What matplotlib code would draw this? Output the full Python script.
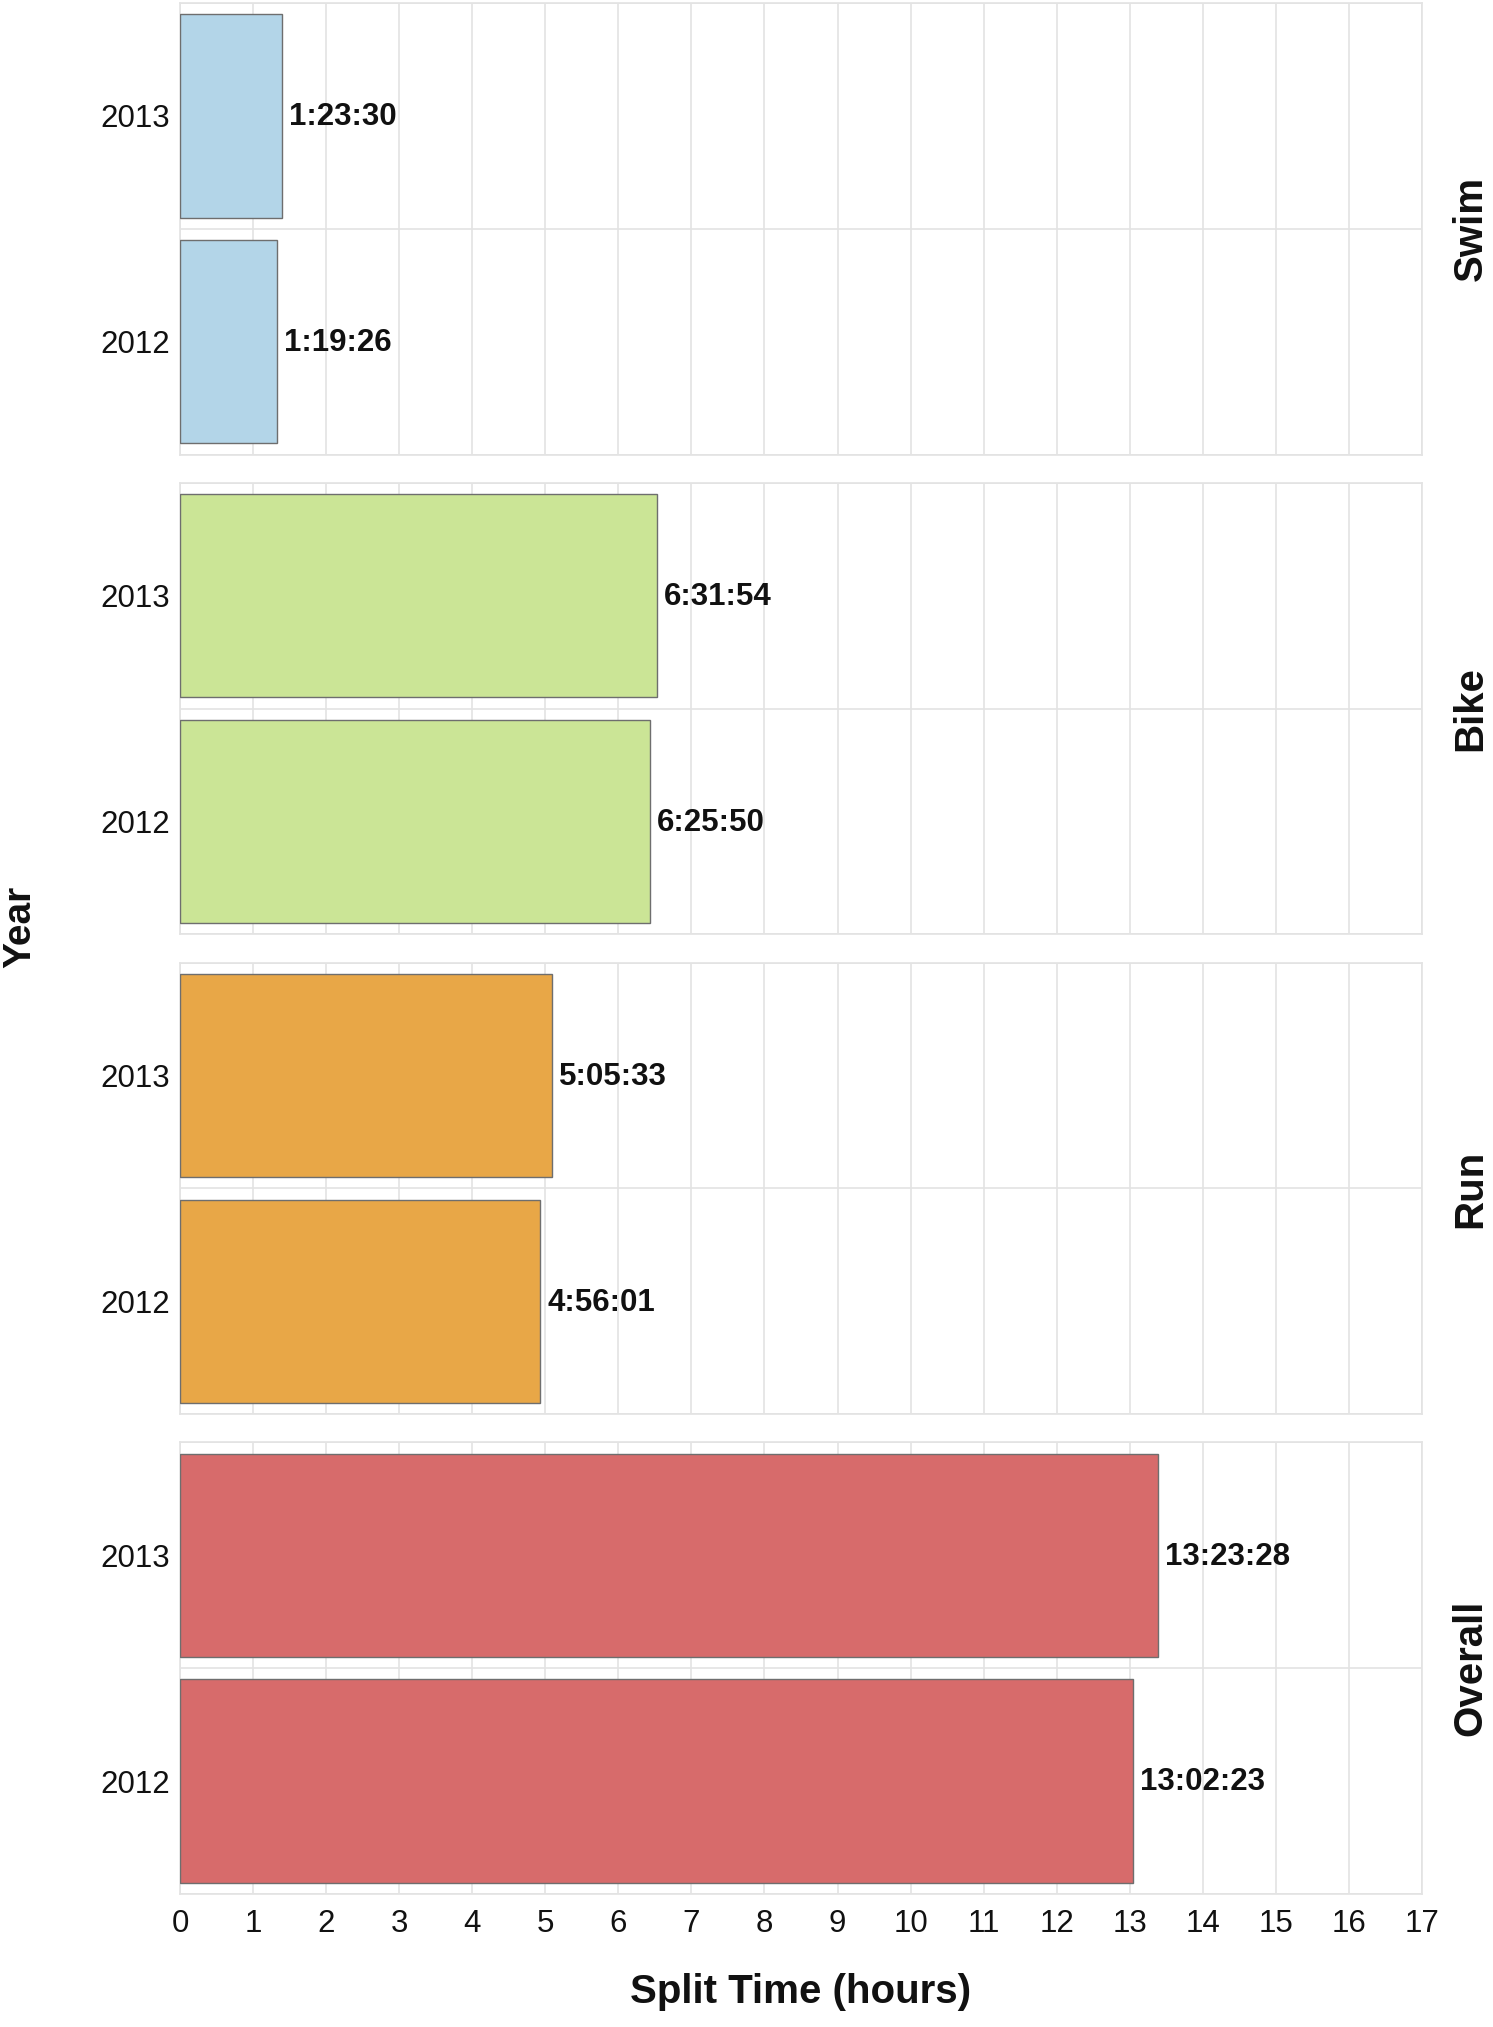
import matplotlib
matplotlib.use("Agg")
import matplotlib.pyplot as plt
import numpy as np

# split times, h:mm:ss
disciplines = ["Swim", "Bike", "Run", "Overall"]
years = ["2012", "2013"]
split_2012 = ["1:19:26", "6:25:50", "4:56:01", "13:02:23"]
split_2013 = ["1:23:30", "6:31:54", "5:05:33", "13:23:28"]
bar_colors = ["#B3D5E8", "#CBE596", "#E8A747", "#D76B6B"]
x_ticks = list(range(0, 18))


def to_hours(s):
    h, m, sec = [int(p) for p in s.split(":")]
    return h + m / 60 + sec / 3600


plt.rcParams["font.family"] = ["Liberation Sans", "DejaVu Sans"]

W, H = 1493, 2027
fig, axes = plt.subplots(4, 1, figsize=(W / 100, H / 100), dpi=100, sharex=True)
fig.subplots_adjust(left=180 / W, right=1422 / W, top=1 - 3 / H, bottom=1 - 1894 / H, hspace=0.062)

grid_c = "#E3E3E3"
for i, ax in enumerate(axes):
    times = [split_2012[i], split_2013[i]]
    vals = [to_hours(t) for t in times]
    ypos = np.arange(1, len(years) + 1)
    ax.barh(ypos, vals, height=0.9, color=bar_colors[i], edgecolor="#6E6E6E", linewidth=1.0, zorder=3)
    for y, v, t in zip(ypos, vals, times):
        ax.annotate(t, (v, y), xytext=(5, -1), textcoords="offset points",
                    ha="left", va="center", fontsize=22.5, fontweight="bold", color="#111111", zorder=4)
    ax.set_xlim(0, 17)
    ax.set_ylim(0.5, 2.5)
    ax.set_yticks(ypos)
    ax.set_yticklabels(years)
    ax.set_xticks(x_ticks)
    ax.set_yticks([0.5, 1.5, 2.5], minor=True)
    ax.grid(True, axis="x", which="major", color=grid_c, linewidth=1.2, zorder=0)
    ax.grid(True, axis="y", which="minor", color=grid_c, linewidth=1.2, zorder=0)
    ax.grid(False, axis="y", which="major")
    ax.tick_params(axis="both", which="both", length=0, labelsize=22.5, colors="#111111")
    ax.tick_params(axis="y", pad=7)
    ax.tick_params(axis="x", pad=11)
    for sp in ax.spines.values():
        sp.set_color(grid_c)
        sp.set_linewidth(1.2)
    ax.text(1.039, 0.5, disciplines[i], transform=ax.transAxes, rotation=90,
            ha="center", va="center", fontsize=29, fontweight="bold", color="#111111")

fig.text((180 + 1422) / 2 / W, 1 - 1992 / H, "Split Time (hours)", ha="center", va="center",
         fontsize=29, fontweight="bold", color="#111111")
fig.text(20 / W, 1 - 927 / H, "Year", ha="center", va="center", rotation=90,
         fontsize=28, fontweight="bold", color="#111111")

fig.savefig("out.png", dpi=100)
